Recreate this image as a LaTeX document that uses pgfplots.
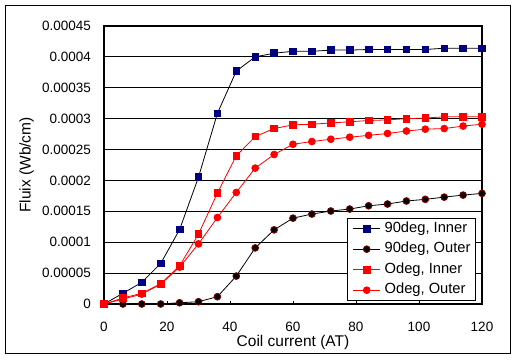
\documentclass[border=0pt]{standalone}
\usepackage{fontspec}
\setmainfont{Liberation Sans}
\usepackage{pgfplots}
\pgfplotsset{compat=1.18}
\definecolor{navy}{RGB}{0,0,128}
\definecolor{maroon}{RGB}{128,0,0}
\begin{document}
\begin{tikzpicture}[font=\fontsize{15.5bp}{18bp}\selectfont]
\useasboundingbox (0,0) rectangle (518bp,360bp);
\draw[line width=1bp] (5.5bp,6.5bp) rectangle (510.5bp,354.5bp);
\begin{axis}[
  at={(104bp,56bp)}, anchor=south west,
  scale only axis, width=378bp, height=278bp,
  xmin=0, xmax=120, ymin=0, ymax=0.00045,
  scaled y ticks=false, scaled x ticks=false,
  xtick={0,20,40,60,80,100,120},
  xticklabels={0,20,40,60,80,100,120},
  ytick={0,0.00005,0.0001,0.00015,0.0002,0.00025,0.0003,0.00035,0.0004,0.00045},
  yticklabels={0,0.00005,0.0001,0.00015,0.0002,0.00025,0.0003,0.00035,0.0004,0.00045},
  /pgf/number format/assume math mode=true,
  xtick pos=bottom, ytick pos=left,
  tick align=inside, major tick length=3bp,
  xtick style={black, line width=1bp},
  ytick style={draw=none},
  ymajorgrids, major grid style={black, line width=0.9bp},
  axis line style={line width=2bp},
  tick label style={font=\fontsize{13.5bp}{16bp}\selectfont},
  yticklabel style={anchor=east, inner sep=0pt, xshift=-13bp},
  xticklabel style={anchor=north, inner sep=0pt, yshift=-17.5bp},
  xlabel={Coil current (AT)},
  ylabel={Fluix (Wb/cm)},
  xlabel style={at={(axis description cs:0.5,-0.140)}, anchor=center},
  ylabel style={at={(axis description cs:-0.205,0.5)}, anchor=center},
  clip=false,
  legend cell align=left,
  legend style={at={(rel axis cs:0.984,0.011)}, anchor=south east,
    draw=black, line width=1bp, inner xsep=5bp, inner ysep=0bp,
    font=\fontsize{14.7bp}{17bp}\selectfont,
    nodes={inner xsep=0bp, inner ysep=2.5bp, text height=11.5bp, text depth=4bp},
    /tikz/every odd column/.append style={column sep=4bp}},
  legend image code/.code={\draw[mark repeat=2,mark phase=2,#1] plot coordinates {(0bp,0bp) (13.5bp,0bp) (27bp,0bp)};},
]
\addplot[black, line width=0.8bp, mark=square*, mark size=3.3bp, mark options={fill=navy, draw=navy, solid}] coordinates {
(0,0) (6,0.0000173) (12,0.000035) (18,0.0000656) (24,0.0001205) (30,0.0002053)
(36,0.0003086) (42,0.000377) (48,0.0004) (54,0.000406) (60,0.000409) (66,0.000409)
(72,0.000411) (78,0.000411) (84,0.000412) (90,0.000412) (96,0.000412) (102,0.000412)
(108,0.000414) (114,0.000414) (120,0.000414)};
\addlegendentry{90deg, Inner}
\addplot[black, line width=0.8bp, mark=*, mark size=3.4bp, mark options={fill=black, draw=maroon, line width=0.8bp, solid}] coordinates {
(0,0) (6,0) (12,0) (18,0) (24,0.000002) (30,0.0000037)
(36,0.0000118) (42,0.0000452) (48,0.0000908) (54,0.00012) (60,0.000139) (66,0.0001456)
(72,0.0001505) (78,0.0001537) (84,0.000159) (90,0.0001618) (96,0.0001667) (102,0.0001694)
(108,0.000173) (114,0.0001763) (120,0.000179)};
\addlegendentry{90deg, Outer}
\addplot[red, line width=0.8bp, mark=square*, mark size=3.3bp, mark options={fill=red, draw=red, solid}] coordinates {
(0,0) (6,0.0000097) (12,0.0000173) (18,0.0000328) (24,0.0000618) (30,0.000113)
(36,0.0001796) (42,0.00024) (48,0.000271) (54,0.000284) (60,0.00029) (66,0.000291)
(72,0.000293) (78,0.000295) (84,0.000297) (90,0.000298) (96,0.0003) (102,0.000301)
(108,0.000303) (114,0.000303) (120,0.000303)};
\addlegendentry{Odeg, Inner}
\addplot[red, line width=0.8bp, mark=*, mark size=3.4bp, mark options={fill=red, draw=red, solid}] coordinates {
(0,0) (6,0.000008) (12,0.000016) (18,0.000032) (24,0.0000597) (30,0.0000973)
(36,0.00014) (42,0.0001806) (48,0.00022) (54,0.000242) (60,0.0002586) (66,0.000263)
(72,0.0002667) (78,0.00027) (84,0.000273) (90,0.000276) (96,0.00028) (102,0.000283)
(108,0.000284) (114,0.000288) (120,0.000291)};
\addlegendentry{Odeg, Outer}
\end{axis}
\end{tikzpicture}
\end{document}
